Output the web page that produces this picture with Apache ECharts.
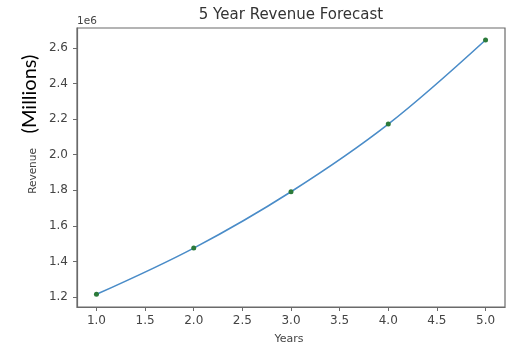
<!DOCTYPE html>
<html>
<head>
<meta charset="utf-8">
<script src="https://cdn.jsdelivr.net/npm/echarts@6/dist/echarts.min.js"></script>
<style>
  html, body { margin: 0; padding: 0; background: #fff; }
  #chart { width: 508px; height: 347px; }
</style>
</head>
<body>
<div id="chart"></div>
<script>
// Forecast data: year index and projected revenue
const years = [1, 2, 3, 4, 5];
const revenue = [1215000, 1475000, 1792000, 2172000, 2645000];

// Tick positions shown on each axis
const xTicks = [1.0, 1.5, 2.0, 2.5, 3.0, 3.5, 4.0, 4.5, 5.0];
const yTicks = [1200000, 1400000, 1600000, 1800000, 2000000, 2200000, 2400000, 2600000];

// Axis extents (data range plus a 5% pad on each side)
const xMin = 0.8, xMax = 5.2;
const yMin = 1143800, yMax = 2712400;

const axisColor = '#6a6a6a';
const textColor = '#444';
const font = 'DejaVu Sans';

const chart = echarts.init(document.getElementById('chart'), null, { renderer: 'canvas' });

chart.setOption({
  animation: false,
  backgroundColor: '#fff',
  grid: {
    left: 77, right: 3, top: 28, bottom: 40,
    show: true, borderColor: axisColor, borderWidth: 1.2,
    containLabel: false
  },
  xAxis: {
    type: 'value',
    min: xMin, max: xMax,
    splitLine: { show: false },
    axisLine: { show: true, lineStyle: { color: axisColor, width: 1.2 } },
    axisTick: { show: true, length: 4, inside: false, customValues: xTicks,
                lineStyle: { color: axisColor } },
    axisLabel: { customValues: xTicks, margin: 8, color: textColor,
                 fontFamily: font, fontSize: 12,
                 formatter: v => v.toFixed(1) }
  },
  yAxis: {
    type: 'value',
    min: yMin, max: yMax,
    splitLine: { show: false },
    axisLine: { show: true, lineStyle: { color: axisColor, width: 1.2 } },
    axisTick: { show: true, length: 4, inside: false, customValues: yTicks,
                lineStyle: { color: axisColor } },
    axisLabel: { customValues: yTicks, margin: 9, color: textColor,
                 fontFamily: font, fontSize: 12,
                 formatter: v => (v / 1e6).toFixed(1) }
  },
  series: [{
    type: 'line',
    data: years.map((y, i) => [y, revenue[i]]),
    smooth: 0.35,
    symbol: 'circle',
    symbolSize: 5,
    lineStyle: { color: '#4a8cc8', width: 1.6 },
    itemStyle: { color: '#2b7a3a' },
    z: 3
  }],
  graphic: [
    { type: 'text', x: 291, y: 15,
      style: { text: '5 Year Revenue Forecast', fill: '#333', font: '15px "DejaVu Sans"',
               align: 'center', verticalAlign: 'middle' } },
    { type: 'text', x: 77, y: 21,
      style: { text: '1e6', fill: textColor, font: '10.5px "DejaVu Sans"',
               align: 'left', verticalAlign: 'middle' } },
    { type: 'text', x: 289, y: 339,
      style: { text: 'Years', fill: textColor, font: '11px "DejaVu Sans"',
               align: 'center', verticalAlign: 'middle' } },
    { type: 'text', x: 33, y: 171, rotation: Math.PI / 2,
      style: { text: 'Revenue', fill: textColor, font: '10.5px "DejaVu Sans"',
               align: 'center', verticalAlign: 'middle' } },
    { type: 'text', x: 30, y: 94, rotation: Math.PI / 2,
      style: { text: '(Millions)', fill: '#000', font: '20px Lato',
               align: 'center', verticalAlign: 'middle' } }
  ]
});
</script>
</body>
</html>
